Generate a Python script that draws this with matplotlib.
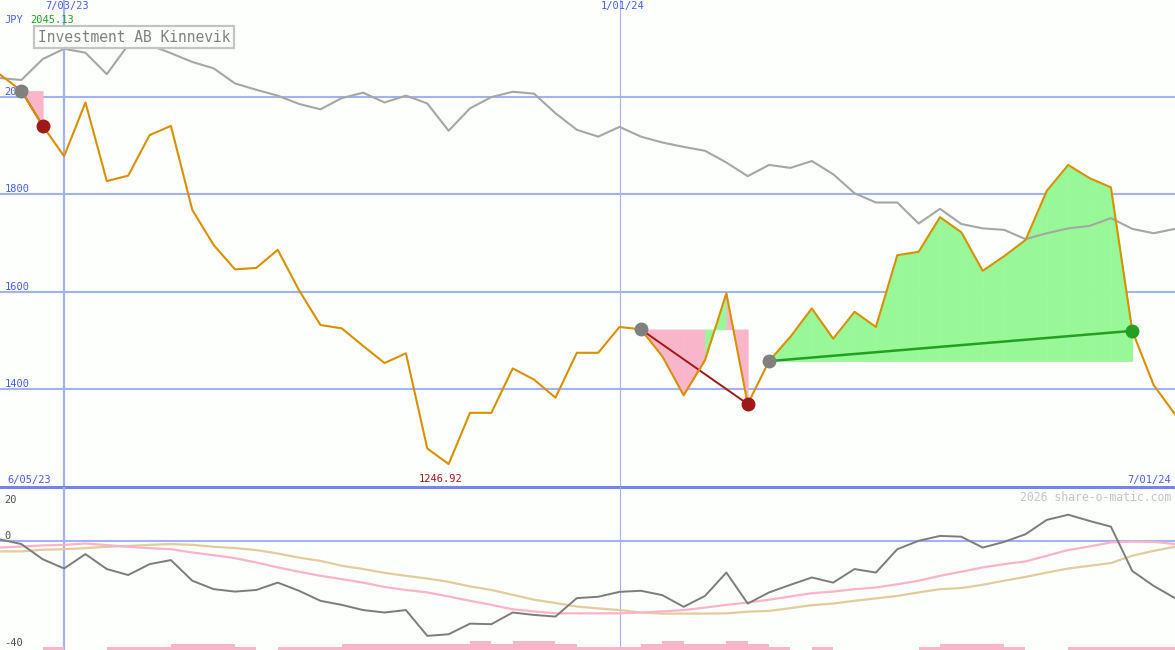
import numpy as np
import pandas as pd
import matplotlib
matplotlib.use('Agg')
import matplotlib.pyplot as plt
import matplotlib.dates as mdates

# weekly closes, Investment AB Kinnevik (JPY)
dates = pd.date_range('2023-06-12', periods=56, freq='7D')
price = [2045.13, 2012, 1940, 1878, 1988, 1827, 1838, 1921, 1940, 1768,
         1696, 1646, 1649, 1686, 1603, 1532, 1525, 1489, 1454, 1474,
         1279, 1246.92, 1352, 1352, 1443, 1420, 1383, 1475, 1475, 1528,
         1523, 1468, 1388, 1460, 1597, 1370, 1458, 1508, 1566, 1504,
         1559, 1528, 1675, 1682, 1753, 1722, 1643, 1673, 1706, 1807,
         1860, 1833, 1814, 1520, 1409, 1349]
# comparison index, rescaled
compare = [2038, 2034, 2077, 2098, 2090, 2046, 2106, 2106, 2089, 2071,
           2058, 2027, 2014, 2002, 1985, 1974, 1997, 2008, 1988, 2002,
           1986, 1930, 1976, 1999, 2010, 2006, 1966, 1932, 1918, 1938,
           1918, 1906, 1897, 1889, 1865, 1837, 1860, 1854, 1868, 1841,
           1802, 1783, 1783, 1740, 1770, 1739, 1730, 1727, 1708, 1720,
           1730, 1735, 1751, 1729, 1720, 1729]

# lower panel
momentum = [0.7, -1.0, -6.6, -10.0, -4.7, -10.2, -12.4, -8.4, -6.9, -14.5,
            -17.6, -18.5, -17.9, -15.2, -18.2, -21.9, -23.4, -25.3, -26.2, -25.3,
            -34.8, -34.2, -30.3, -30.5, -26.2, -27.1, -27.7, -20.9, -20.4, -18.6,
            -18.2, -19.8, -24.1, -20.1, -11.5, -22.9, -18.8, -16.0, -13.3, -15.2,
            -10.2, -11.5, -2.9, 0.2, 2.0, 1.7, -2.3, -0.2, 2.6, 7.9,
            9.8, 7.5, 5.4, -10.9, -16.4, -20.9]
fast_avg = [-2.3, -1.9, -1.5, -1.3, -0.8, -1.4, -2.0, -2.5, -2.9, -4.1,
            -5.1, -6.2, -7.8, -9.6, -11.2, -12.7, -13.9, -15.2, -16.8, -17.9,
            -18.8, -20.3, -21.9, -23.4, -25.0, -25.8, -26.5, -26.5, -26.5, -26.5,
            -26.2, -25.8, -25.3, -24.4, -23.4, -22.5, -21.5, -20.3, -19.1, -18.5,
            -17.6, -17.0, -15.8, -14.5, -12.7, -11.2, -9.6, -8.4, -7.4, -5.3,
            -3.2, -1.9, -0.4, -0.1, -0.2, -1.0]
slow_avg = [-3.7, -3.7, -3.1, -2.9, -2.5, -2.0, -1.7, -1.3, -1.0, -1.3,
            -2.0, -2.5, -3.2, -4.5, -6.0, -7.2, -9.0, -10.2, -11.6, -12.7,
            -13.7, -14.9, -16.6, -17.9, -19.7, -21.5, -22.7, -24.0, -24.7, -25.3,
            -26.2, -26.6, -26.6, -26.6, -26.5, -25.9, -25.6, -24.6, -23.5, -22.9,
            -21.9, -21.0, -20.1, -18.8, -17.6, -17.2, -16.0, -14.5, -13.1, -11.5,
            -10.0, -9.0, -8.0, -5.3, -3.5, -2.0]
# signal strength blocks along the bottom (one per week)
signal = [0, 0, 1, 0, 0, 1, 1, 1, 2, 2,
          2, 1, 0, 1, 1, 1, 2, 2, 2, 2,
          2, 2, 3, 2, 3, 3, 2, 1, 1, 1,
          2, 3, 2, 2, 3, 2, 1, 0, 1, 0,
          0, 0, 0, 1, 2, 2, 2, 1, 0, 0,
          1, 1, 1, 1, 1]

# trades: entry / exit week index
entries = [1, 30, 36]
exits = [2, 35, 53]

mark_dates = ['2023-07-03', '2024-01-01']
mark_labels = ['7/03/23', '1/01/24']
price_ticks = [1400, 1600, 1800, 2000]

bg = '#fcfffc'
grid = '#a4b2f2'
blue = '#4a5cf0'
orange = '#d99000'
pink = '#f9b6cb'
lgreen = '#98f898'
dred = '#a01818'
dgreen = '#22a022'
mono = 'DejaVu Sans Mono'

x = mdates.date2num(dates)
price = np.array(price)

fig = plt.figure(figsize=(11.75, 6.5), dpi=100)
fig.patch.set_facecolor(bg)
split = 163 / 650
ax = fig.add_axes([0, split, 1, 1 - split])
ax2 = fig.add_axes([0, 0, 1, split])
for a in (ax, ax2):
    a.set_axis_off()
    a.set_xlim(x[0], x[-1])
ax.set_ylim(1200, 2198)
ax2.set_ylim(-40, 20)

# grid
for v in price_ticks:
    ax.axhline(v, color=grid, lw=1.5, zorder=0)
ax.axhline(1200, color='#7585e8', lw=2.2, clip_on=False, zorder=6)
ax2.axhline(0, color=grid, lw=1.5, zorder=0)
for d, w in zip(mark_dates, [1.6, 0.8]):
    xd = mdates.date2num(pd.Timestamp(d))
    ax.axvline(xd, color=grid, lw=w, zorder=0)
    ax2.axvline(xd, color=grid, lw=w, zorder=0)

# y labels
for v in price_ticks:
    ax.text(0.004, v, str(v), transform=ax.get_yaxis_transform(), color=blue,
            fontsize=7.5, family=mono, va='bottom', zorder=1)

# trade fills
for e, q in zip(entries, exits):
    level = price[e]
    for k in range(e, q):
        col = lgreen if price[k + 1] >= level else pink
        ax.fill_between(x[k:k + 2], level, price[k:k + 2], color=col,
                        ec=col, lw=0.4, zorder=1)

ax.plot(x, compare, color='#a6a6a6', lw=1.5, zorder=2)
ax.plot(x, price, color=orange, lw=1.5, zorder=3)

for e, q in zip(entries, exits):
    win = price[q] >= price[e]
    col = dgreen if win else dred
    ax.plot([x[e], x[q]], [price[e], price[q]], color=col, lw=1.8 if win else 1.4, zorder=2.5)
    ax.plot(x[e], price[e], 'o', ms=9, color='#808080', zorder=5)
    ax.plot(x[q], price[q], 'o', ms=9, color=col, zorder=5)

# lower panel
ax2.bar(x[:-1], np.array(signal) * 1.1, width=7, align='edge', bottom=-40,
        color=pink, lw=0, zorder=1)
ax2.plot(x, slow_avg, color='#e2cc9c', lw=1.6, zorder=2)
ax2.plot(x, fast_avg, color='#ffb2c8', lw=1.6, zorder=2)
ax2.plot(x, momentum, color='#7c7c7c', lw=1.4, zorder=3)

# texts
for d, lab in zip(mark_dates, mark_labels):
    ax.text(mdates.date2num(pd.Timestamp(d)) + 1, 0.997, lab, transform=ax.get_xaxis_transform(),
            color=blue, fontsize=7.5, family=mono, ha='center', va='top')
ax.text(0.004, 0.97, 'JPY', transform=ax.transAxes, color=blue, fontsize=7.5,
        family=mono, va='top')
ax.text(0.026, 0.97, f'{price.max():.2f}', transform=ax.transAxes, color='#20a020',
        fontsize=7.5, family=mono, va='top')
ax.text(0.032, 0.924, 'Investment AB Kinnevik', transform=ax.transAxes, color='#808080',
        fontsize=10.5, family=mono, va='center', zorder=7,
        bbox=dict(boxstyle='square,pad=0.25', fc=bg, ec='#c4c4c4', lw=1.6))
ax.text(0.006, 0.004, '6/05/23', transform=ax.transAxes, color=blue, fontsize=7.5,
        family=mono, va='bottom')
ax.text(0.997, 0.004, '7/01/24', transform=ax.transAxes, color=blue, fontsize=7.5,
        family=mono, va='bottom', ha='right')
imin = int(np.argmin(price))
ax.annotate(f'{price[imin]:.2f}', xy=(x[imin], 0), xycoords=ax.get_xaxis_transform(),
            xytext=(-6, 2), textcoords='offset points', color=dred, fontsize=7.5,
            family=mono, ha='center', va='bottom')

ax2.text(0.997, 0.975, '2026 share-o-matic.com', transform=ax2.transAxes, color='#c4c4c4',
         fontsize=8.3, family=mono, ha='right', va='top')
ax2.text(0.004, 0.95, '20', transform=ax2.transAxes, color='#505050', fontsize=7.5,
         family=mono, va='top')
ax2.text(0.004, 0, '0', transform=ax2.get_yaxis_transform(), color='#505050', fontsize=7.5,
         family=mono, va='bottom')
ax2.text(0.004, 0.01, '-40', transform=ax2.transAxes, color='#505050', fontsize=7.5,
         family=mono, va='bottom')

fig.savefig('out.png', dpi=100, facecolor=bg)
